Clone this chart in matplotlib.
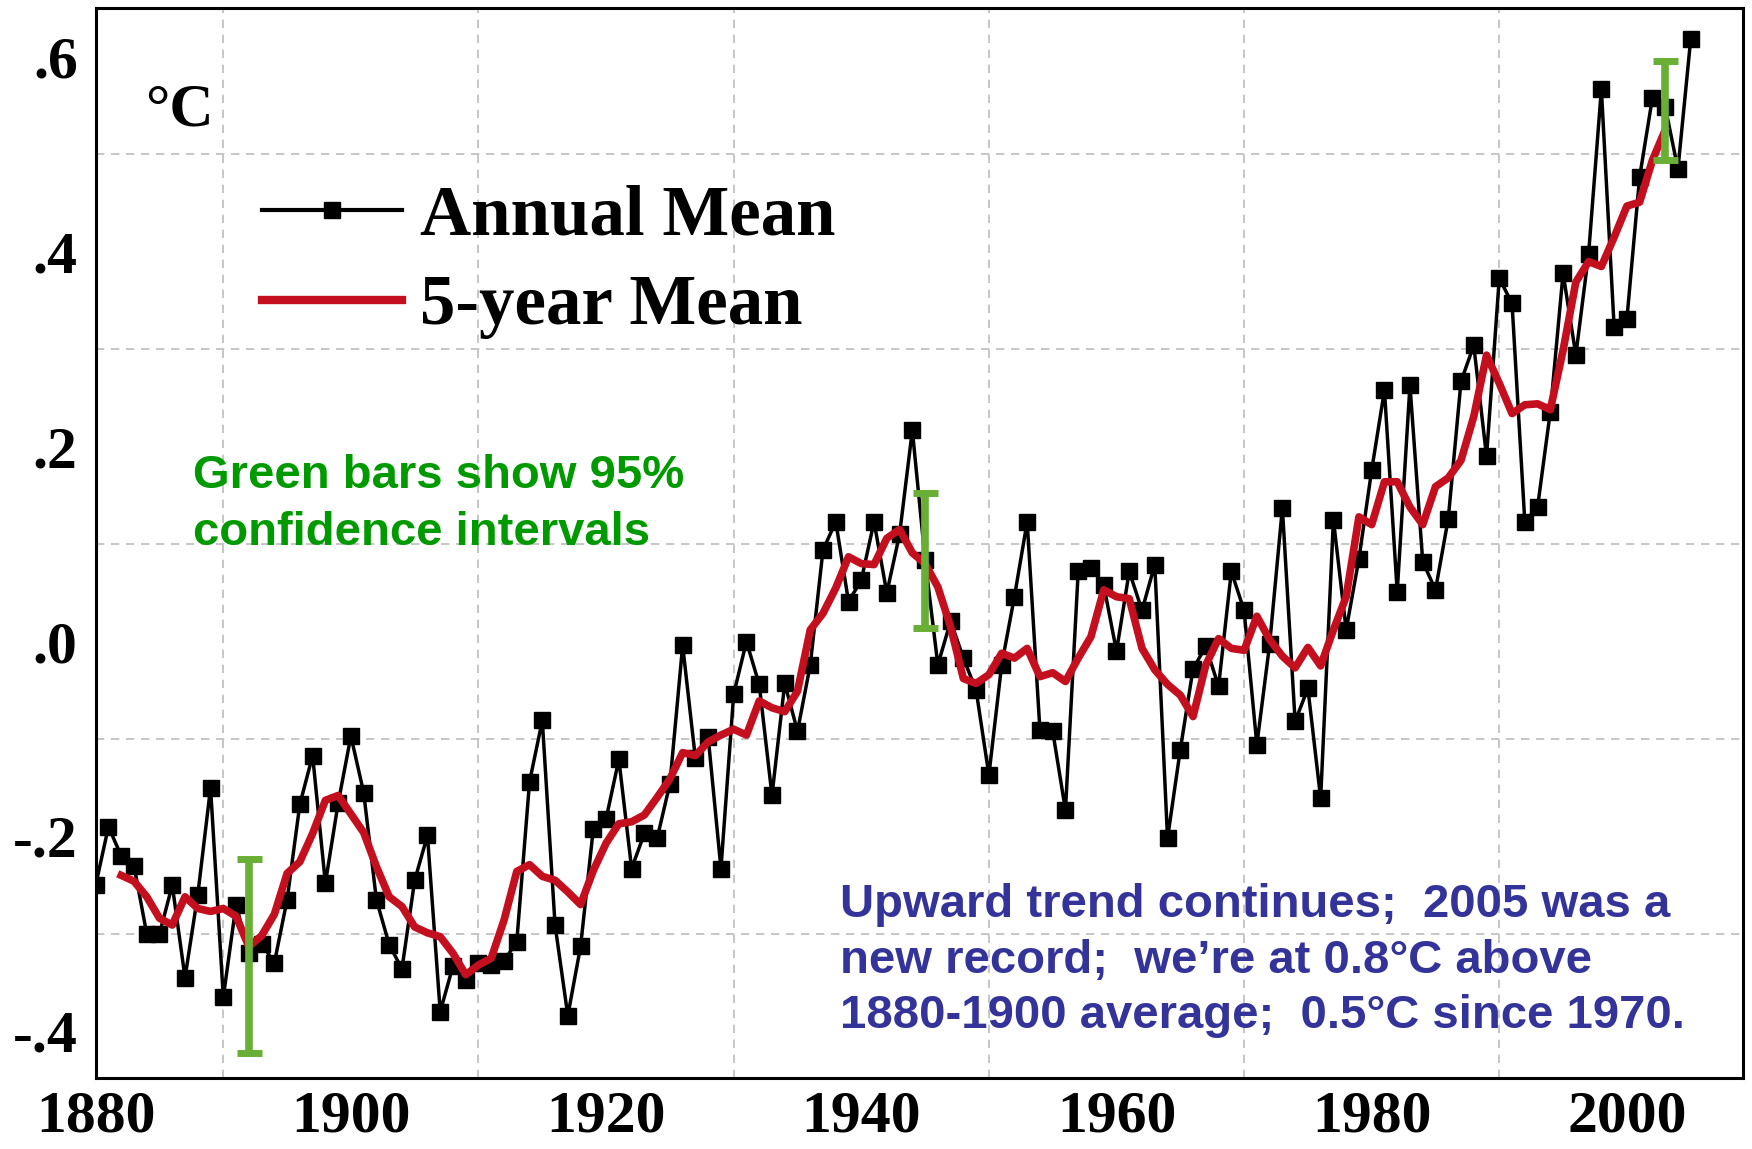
import matplotlib
matplotlib.use("Agg")
import matplotlib.pyplot as plt
from matplotlib.lines import Line2D
import numpy as np

# ---------------- data ----------------
years = list(range(1880, 2006))
annual_mean = [
    -0.25, -0.19, -0.22, -0.23, -0.30, -0.30, -0.25, -0.345, -0.26, -0.15,      # 1880-1889
    -0.365, -0.27, -0.32, -0.31, -0.33, -0.265, -0.167, -0.117, -0.248, -0.166, # 1890-1899
    -0.097, -0.155, -0.265, -0.311, -0.336, -0.245, -0.199, -0.38, -0.333, -0.347,  # 1900-1909
    -0.33, -0.332, -0.328, -0.308, -0.144, -0.081, -0.291, -0.384, -0.313, -0.192,  # 1910-1919
    -0.182, -0.121, -0.233, -0.197, -0.202, -0.146, -0.004, -0.12, -0.098, -0.233,  # 1920-1929
    -0.054, 0.0, -0.044, -0.158, -0.043, -0.092, -0.024, 0.094, 0.123, 0.041,       # 1930-1939
    0.063, 0.123, 0.05, 0.11, 0.217, 0.084, -0.024, 0.021, -0.017, -0.05,           # 1940-1949
    -0.137, -0.024, 0.046, 0.123, -0.091, -0.092, -0.173, 0.072, 0.076, 0.058,      # 1950-1959
    -0.01, 0.072, 0.032, 0.079, -0.202, -0.111, -0.028, -0.005, -0.046, 0.072,      # 1960-1969
    0.032, -0.106, -0.003, 0.137, -0.082, -0.048, -0.161, 0.125, 0.012, 0.085,      # 1970-1979
    0.176, 0.258, 0.051, 0.263, 0.082, 0.053, 0.126, 0.267, 0.304, 0.19,            # 1980-1989
    0.373, 0.347, 0.123, 0.138, 0.236, 0.378, 0.294, 0.398, 0.567, 0.323,           # 1990-1999
    0.331, 0.477, 0.558, 0.549, 0.485, 0.618,                                       # 2000-2005
]

years_5yr = list(range(1882, 2004))
five_year_mean = [
    -0.240, -0.246, -0.262, -0.284, -0.291, -0.262, -0.274, -0.277,                 # 1882-1889
    -0.274, -0.282, -0.313, -0.302, -0.280, -0.238, -0.226, -0.197, -0.163, -0.158, # 1890-1899
    -0.177, -0.196, -0.231, -0.262, -0.272, -0.293, -0.299, -0.303, -0.320, -0.342, # 1900-1909
    -0.332, -0.325, -0.286, -0.236, -0.229, -0.241, -0.245, -0.257, -0.270, -0.235, # 1910-1919
    -0.207, -0.187, -0.185, -0.178, -0.160, -0.141, -0.114, -0.117, -0.103, -0.096, # 1920-1929
    -0.090, -0.096, -0.061, -0.068, -0.072, -0.051, 0.012, 0.029, 0.055, 0.087,     # 1930-1939
    0.080, 0.079, 0.106, 0.115, 0.091, 0.080, 0.056, 0.015, -0.038, -0.043,         # 1940-1949
    -0.034, -0.012, -0.017, -0.007, -0.036, -0.032, -0.041, -0.017, 0.005, 0.053,   # 1950-1959
    0.046, 0.044, -0.007, -0.029, -0.044, -0.055, -0.077, -0.024, 0.003, -0.007,    # 1960-1969
    -0.009, 0.026, 0.002, -0.015, -0.027, -0.006, -0.025, 0.012, 0.046, 0.128,      # 1970-1979
    0.120, 0.164, 0.164, 0.138, 0.120, 0.159, 0.168, 0.186, 0.231, 0.294,           # 1980-1989
    0.265, 0.234, 0.243, 0.244, 0.238, 0.299, 0.369, 0.390, 0.385, 0.415,           # 1990-1999
    0.447, 0.451, 0.494, 0.525,                                                     # 2000-2003
]

ci_years = [1892, 1945, 2003]
ci_low = [-0.422, 0.014, 0.494]
ci_high = [-0.223, 0.152, 0.596]

x_ticks = [1880, 1900, 1920, 1940, 1960, 1980, 2000]
x_tick_labels = ["1880", "1900", "1920", "1940", "1960", "1980", "2000"]
y_ticks = [-0.4, -0.2, 0.0, 0.2, 0.4, 0.6]
y_tick_labels = ["-.4", "-.2", ".0", ".2", ".4", ".6"]

legend_labels = ["Annual Mean", "5-year Mean"]
unit_label = "°C"
green_note = ["Green bars show 95%", "confidence intervals"]
blue_note = ["Upward trend continues;  2005 was a",
             "new record;  we\u2019re at 0.8°C above",
             "1880-1900 average;  0.5°C since 1970."]

# ---------------- figure ----------------
W, H = 1752, 1149
fig = plt.figure(figsize=(W / 100, H / 100), dpi=100)
fig.patch.set_facecolor("white")

ax_left, ax_right, ax_top, ax_bottom = 95.7, 1743, 8.3, 1078
ax = fig.add_axes([ax_left / W, 1 - ax_bottom / H,
                   (ax_right - ax_left) / W, (ax_bottom - ax_top) / H])

SERIF = ["Liberation Serif", "DejaVu Serif"]
SANS = ["Liberation Sans", "DejaVu Sans"]

red = "#c40f1f"
green_bar = "#6aaf35"
green_txt = "#009900"
blue_txt = "#333399"

# grid
ax.set_xticks(np.arange(1880, 2010, 10), minor=True)
ax.set_yticks(np.arange(-0.4, 0.65, 0.1), minor=True)
ax.grid(True, which="minor", color="#bcbcbc", linestyle=(0, (5, 4)), linewidth=1.2)
ax.set_axisbelow(True)

# data
ax.plot(years, annual_mean, color="black", linewidth=2.5, marker="s",
        markersize=11, markerfacecolor="black", markeredgecolor="black", zorder=3)
ax.plot(years_5yr, five_year_mean, color=red, linewidth=5.5, zorder=4,
        solid_joinstyle="round")

ci_mid = [(lo + hi) / 2 for lo, hi in zip(ci_low, ci_high)]
ci_err = [[m - lo for m, lo in zip(ci_mid, ci_low)],
          [hi - m for m, hi in zip(ci_mid, ci_high)]]
ax.errorbar(ci_years, ci_mid, yerr=ci_err, fmt="none", ecolor=green_bar,
            elinewidth=5.5, capsize=9, capthick=5, zorder=5)

ax.set_xlim(1880, 2009.1)
ax.set_ylim(-0.448, 0.650)

ax.set_xticks(x_ticks)
ax.set_xticklabels(x_tick_labels)
ax.set_yticks(y_ticks)
ax.set_yticklabels(y_tick_labels)
ax.tick_params(axis="both", which="both", length=0)
ax.tick_params(axis="x", pad=9)
ax.tick_params(axis="y", pad=13)
for lab in ax.get_xticklabels() + ax.get_yticklabels():
    lab.set_fontfamily(SERIF)
    lab.set_fontweight("bold")
    lab.set_fontsize(43)

for sp in ax.spines.values():
    sp.set_linewidth(2.2)
    sp.set_color("black")

# legend
handles = [Line2D([], [], color="black", linewidth=3, marker="s", markersize=12),
           Line2D([], [], color=red, linewidth=6)]
leg = ax.legend(handles, legend_labels, loc="center left",
                bbox_to_anchor=(262 / W, 1 - 262 / H), bbox_transform=fig.transFigure,
                frameon=False, numpoints=1, borderpad=0, borderaxespad=0,
                handlelength=1.98, handletextpad=0.25, labelspacing=0.35,
                prop={"family": SERIF, "weight": "bold", "size": 51})


def ftext(x, y, s, **kw):
    fig.text(x / W, 1 - y / H, s, va="baseline", ha="left", **kw)


ftext(145, 125, unit_label, family=SERIF, weight="bold", fontsize=44)

for i, line in enumerate(green_note):
    ftext(193, 488 + 57 * i, line, family=SANS, weight="bold", fontsize=34, color=green_txt)

for i, line in enumerate(blue_note):
    ftext(840, 917 + 55.5 * i, line, family=SANS, weight="bold", fontsize=34, color=blue_txt)

fig.savefig("out.png", dpi=100, facecolor="white")
